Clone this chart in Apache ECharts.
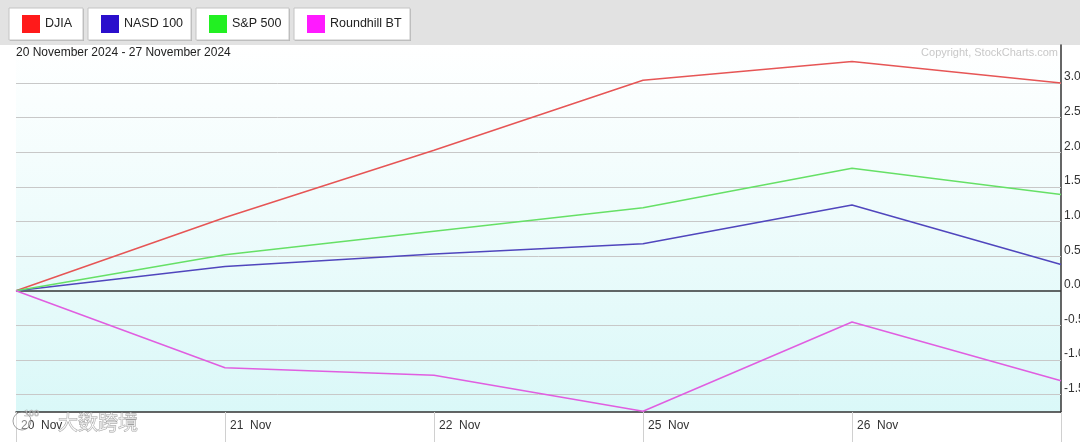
<!DOCTYPE html>
<html>
<head>
<meta charset="utf-8">
<script src="https://cdn.jsdelivr.net/npm/echarts@6/dist/echarts.min.js"></script>
<style>
html,body{margin:0;padding:0;background:#fff;}
#c{width:1080px;height:442px;}
</style>
</head>
<body>
<div id="c"></div>
<script>
// ---- data ----
const categories = ['20 Nov', '21 Nov', '22 Nov', '25 Nov', '26 Nov', '27 Nov'];
const djia      = [0, 1.06, 2.03, 3.04, 3.31, 3.00];
const nasd100   = [0, 0.35, 0.53, 0.68, 1.24, 0.38];
const sp500     = [0, 0.52, 0.86, 1.20, 1.77, 1.39];
const roundhill = [0, -1.11, -1.22, -1.74, -0.45, -1.30];
const seriesNames = ['DJIA', 'NASD 100', 'S&P 500', 'Roundhill BT'];
const gridTicks = [-1.5, -1.0, -0.5, 0.5, 1.0, 1.5, 2.0, 2.5, 3.0];
const titleText = '20 November 2024 - 27 November 2024';
const copyrightText = 'Copyright, StockCharts.com';

// ---- styles ----
const legendColors = ['#ff1a1a', '#2a0fcc', '#22f022', '#ff1aff'];
const lineColors   = ['#e65555', '#5046bd', '#66e066', '#e05ee0'];
const FONT = '"Liberation Sans", Arial, sans-serif';
const buttons = [ // x, width
  [9, 74], [88, 103], [196, 93], [294, 116]
];

const chart = echarts.init(document.getElementById('c'), null, {renderer: 'canvas'});

const graphics = [
  {type: 'rect', shape: {x: 0, y: 0, width: 1080, height: 45}, style: {fill: '#e2e2e2'}, z: 0, silent: true}
];
buttons.forEach((b, i) => {
  graphics.push({
    type: 'group', z: 10, silent: true,
    children: [
      {type: 'rect', shape: {x: b[0] + 1, y: 9, width: b[1], height: 32}, style: {fill: '#b8b8b8'}},
      {type: 'rect', shape: {x: b[0], y: 8, width: b[1], height: 32}, style: {fill: '#ffffff', stroke: '#c4c4c4', lineWidth: 1}},
      {type: 'rect', shape: {x: b[0] + 13, y: 15, width: 18, height: 18}, style: {fill: legendColors[i]}},
      {type: 'text', x: b[0] + 36, y: 24, style: {text: seriesNames[i], font: '12.5px ' + FONT, fill: '#222', verticalAlign: 'middle', align: 'left'}}
    ]
  });
});
graphics.push(
  {type: 'text', x: 16, y: 53, z: 10, silent: true, style: {text: titleText, font: '12px ' + FONT, fill: '#222', verticalAlign: 'middle'}},
  {type: 'text', x: 1058, y: 53, z: 10, silent: true, style: {text: copyrightText, font: '11px ' + FONT, fill: '#c8c8c8', align: 'right', verticalAlign: 'middle'}},
  {type: 'text', x: 58, y: 422, z: 20, silent: true, style: {text: '大数跨境', font: '20px "Noto Sans CJK SC"', fill: 'rgba(255,255,255,0.55)', stroke: 'rgba(120,120,120,0.7)', lineWidth: 0.8, verticalAlign: 'middle'}},
  {type: 'circle', z: 20, silent: true, shape: {cx: 22, cy: 421, r: 9}, style: {fill: 'rgba(255,255,255,0.4)', stroke: 'rgba(120,120,120,0.7)', lineWidth: 1}},
  {type: 'text', x: 24, y: 414, z: 20, silent: true, style: {text: '100', font: '9px ' + FONT, fill: 'rgba(255,255,255,0.5)', stroke: 'rgba(120,120,120,0.7)', lineWidth: 0.6, verticalAlign: 'middle'}}
);

const dataSets = [djia, nasd100, sp500, roundhill];
const series = dataSets.map((d, i) => ({
  name: seriesNames[i],
  type: 'line',
  data: d,
  symbol: 'none',
  z: 5,
  lineStyle: {color: lineColors[i], width: 1.5},
  itemStyle: {color: lineColors[i]},
  animation: false
}));
series.unshift({
  name: 'grid',
  type: 'line',
  data: categories.map(() => '-'),
  symbol: 'none',
  z: 1,
  silent: true,
  animation: false,
  markLine: {
    silent: true,
    symbol: 'none',
    animation: false,
    label: {show: false},
    data: gridTicks.map(v => ({yAxis: v, lineStyle: {color: '#c8c8c8', width: 1, type: 'solid'}}))
      .concat([{yAxis: 0, lineStyle: {color: '#333', width: 1.5, type: 'solid'}}])
  }
});

chart.setOption({
  animation: false,
  backgroundColor: '#ffffff',
  grid: {
    left: 16, right: 19, top: 45, bottom: 30,
    outerBoundsMode: 'none',
    containLabel: false,
    show: true,
    borderWidth: 0,
    backgroundColor: {
      type: 'linear', x: 0, y: 0, x2: 0, y2: 1,
      colorStops: [
        {offset: 0, color: '#ffffff'},
        {offset: 0.45, color: '#effcfc'},
        {offset: 1, color: '#daf8f8'}
      ]
    }
  },
  xAxis: {
    type: 'category',
    data: categories,
    boundaryGap: false,
    position: 'bottom',
    axisLine: {onZero: false, lineStyle: {color: '#333', width: 1.5}},
    axisTick: {show: true, inside: false, length: 30, alignWithLabel: true, lineStyle: {color: '#d0d0d0', width: 1}},
    axisLabel: {
      interval: 0,
      align: 'left',
      margin: 8,
      padding: [0, 0, 0, 5],
      color: '#333',
      fontSize: 12,
      fontFamily: FONT,
      formatter: (v, i) => (i === categories.length - 1 ? '' : v.replace(' ', '  '))
    },
    splitLine: {show: false}
  },
  yAxis: {
    type: 'value',
    position: 'right',
    min: -1.75,
    max: 3.55,
    interval: 0.25,
    axisLine: {show: true, lineStyle: {color: '#333', width: 1.5}},
    axisTick: {show: false},
    splitLine: {show: false},
    axisLabel: {
      show: true,
      margin: 3,
      color: '#333',
      fontSize: 12,
      fontFamily: FONT,
      verticalAlign: 'bottom',
      showMinLabel: true,
      showMaxLabel: true,
      formatter: v => {
        const r = Math.round(v * 100) / 100;
        if (Math.abs(r * 2 - Math.round(r * 2)) > 1e-6) return '';
        if (r < -1.5 || r > 3.0) return '';
        return r.toFixed(1);
      }
    }
  },
  graphic: graphics,
  series: series
});
</script>
</body>
</html>
